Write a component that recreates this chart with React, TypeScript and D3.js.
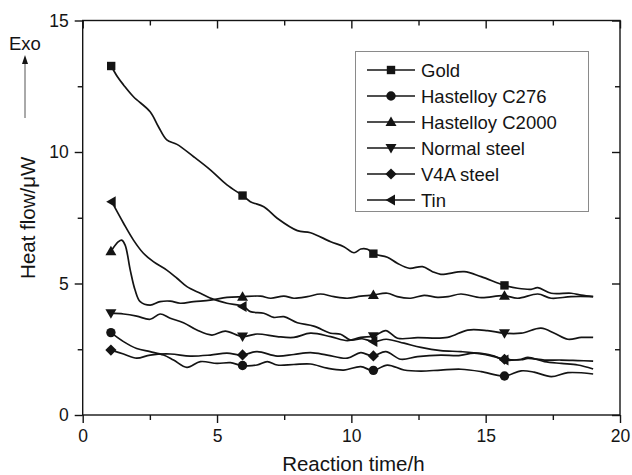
import React, { useEffect, useRef } from "react";
import * as d3 from "d3";

const xTicks = [0, 5, 10, 15, 20];
const xMinor = [2.5, 7.5, 12.5, 17.5];
const yTicks = [0, 5, 10, 15];
const yMinor = [2.5, 7.5, 12.5];

const seriesNames = ["Gold", "Hastelloy C276", "Hastelloy C2000", "Normal steel", "V4A steel", "Tin"];
const markerTimes = [1.05, 5.95, 10.82, 15.7];

const goldT = [1.06, 1.3, 1.52, 1.89, 2.51, 2.82, 3.13, 3.51, 4.13, 4.75, 5.37, 5.97, 6.24, 6.74, 7.24, 7.99, 8.48, 9.23, 9.72, 10.1, 10.35, 10.6, 10.84, 11.34, 11.71, 12.15, 12.65, 13.02, 13.33, 14.2, 14.83, 15.72, 16.19, 16.69, 16.94, 17.44, 18.18, 18.56, 19.0];
const goldV = [13.27, 12.85, 12.55, 12.1, 11.53, 10.96, 10.46, 10.29, 9.82, 9.32, 8.75, 8.33, 8.11, 7.92, 7.48, 7.01, 6.93, 6.59, 6.4, 6.17, 6.31, 6.3, 6.12, 6.0, 5.77, 5.58, 5.64, 5.45, 5.35, 5.45, 5.26, 4.92, 4.82, 4.78, 4.84, 4.63, 4.63, 4.56, 4.5];

const c276T = [1.04, 1.52, 2.01, 2.51, 3.01, 3.38, 3.88, 4.38, 5.0, 5.5, 5.93, 6.49, 6.87, 7.24, 7.86, 8.48, 9.1, 9.72, 10.35, 10.8, 11.34, 11.96, 12.59, 13.33, 14.08, 14.83, 15.69, 16.32, 16.8, 17.44, 18.06, 19.0];
const c276V = [3.14, 2.79, 2.53, 2.41, 2.28, 2.09, 1.81, 2.03, 1.96, 1.99, 1.88, 1.9, 2.03, 1.9, 1.92, 1.94, 1.78, 1.71, 1.84, 1.69, 1.9, 1.71, 1.67, 1.71, 1.74, 1.65, 1.48, 1.68, 1.63, 1.46, 1.61, 1.56];

const c2000T = [1.04, 1.33, 1.45, 1.58, 1.77, 1.95, 2.14, 2.51, 2.88, 3.26, 3.63, 4.13, 4.75, 5.37, 5.93, 6.62, 7.0, 7.49, 7.86, 8.36, 8.85, 9.35, 9.85, 10.35, 10.78, 11.34, 11.71, 12.21, 12.71, 13.21, 13.6, 14.08, 14.83, 15.66, 16.19, 16.94, 17.44, 18.18, 19.0];
const c2000V = [6.21, 6.59, 6.65, 6.46, 5.51, 4.75, 4.31, 4.18, 4.31, 4.33, 4.25, 4.31, 4.37, 4.47, 4.5, 4.52, 4.44, 4.52, 4.44, 4.5, 4.6, 4.5, 4.44, 4.52, 4.56, 4.63, 4.5, 4.44, 4.55, 4.47, 4.5, 4.6, 4.46, 4.54, 4.44, 4.6, 4.44, 4.5, 4.5];

const normalT = [1.04, 1.52, 2.01, 2.51, 2.88, 3.26, 3.75, 4.25, 4.81, 5.31, 5.93, 6.49, 7.24, 7.86, 8.48, 9.23, 9.85, 10.35, 10.84, 11.28, 11.72, 12.46, 13.58, 14.33, 15.07, 15.69, 16.32, 17.06, 17.56, 18.06, 18.56, 19.0];
const normalV = [3.87, 3.84, 3.76, 3.64, 3.84, 3.68, 3.51, 3.23, 3.04, 3.19, 2.98, 3.08, 2.98, 2.95, 3.11, 2.98, 2.83, 2.95, 3.0, 3.21, 2.92, 2.94, 2.95, 3.23, 3.21, 3.11, 3.11, 3.3, 3.11, 2.88, 2.95, 2.95];

const v4aT = [1.04, 1.52, 2.01, 2.51, 3.26, 4.0, 4.75, 5.37, 5.93, 6.49, 7.24, 7.86, 8.48, 9.1, 9.85, 10.35, 10.8, 11.28, 11.84, 12.46, 13.33, 14.0, 14.57, 15.32, 15.69, 16.32, 16.57, 17.19, 17.81, 18.43, 19.0];
const v4aV = [2.47, 2.32, 2.16, 2.28, 2.32, 2.24, 2.28, 2.35, 2.28, 2.41, 2.24, 2.3, 2.37, 2.28, 2.16, 2.37, 2.24, 2.41, 2.12, 2.22, 2.28, 2.26, 2.35, 2.22, 2.12, 2.1, 2.15, 2.09, 2.09, 2.07, 2.05];

const tinT = [1.08, 1.52, 1.89, 2.26, 2.63, 3.13, 3.51, 3.88, 4.38, 4.87, 5.37, 5.99, 6.24, 6.74, 7.11, 7.49, 7.99, 8.6, 9.23, 9.6, 9.97, 10.4, 10.84, 11.3, 11.96, 12.59, 13.33, 14.08, 14.83, 15.32, 15.69, 16.32, 16.57, 17.19, 17.81, 18.43, 19.0];
const tinV = [8.11, 7.29, 6.65, 6.15, 5.83, 5.51, 5.2, 4.88, 4.63, 4.4, 4.25, 4.12, 3.93, 3.87, 3.71, 3.74, 3.51, 3.38, 3.11, 3.07, 2.85, 2.9, 2.79, 2.88, 2.73, 2.57, 2.45, 2.41, 2.34, 2.24, 2.09, 2.12, 2.19, 2.03, 1.96, 1.9, 1.75];

const seriesT = [goldT, c276T, c2000T, normalT, v4aT, tinT];
const seriesV = [goldV, c276V, c2000V, normalV, v4aV, tinV];
const seriesShape = ["square", "circle", "up", "down", "diamond", "left"];

const W = 632;
const H = 475;
const FONT = "'Liberation Sans', Arial, Helvetica, sans-serif";
const INK = "#141414";

function markerPath(shape: string, cx: number, cy: number): string {
  const p = d3.path();
  if (shape === "square") {
    const s = 4.2;
    p.rect(cx - s, cy - s, 2 * s, 2 * s);
  } else if (shape === "circle") {
    p.moveTo(cx + 4.7, cy);
    p.arc(cx, cy, 4.7, 0, Math.PI * 2);
  } else if (shape === "up") {
    p.moveTo(cx, cy - 5.5);
    p.lineTo(cx + 5.5, cy + 4);
    p.lineTo(cx - 5.5, cy + 4);
    p.closePath();
  } else if (shape === "down") {
    p.moveTo(cx, cy + 5.5);
    p.lineTo(cx + 5.5, cy - 4);
    p.lineTo(cx - 5.5, cy - 4);
    p.closePath();
  } else if (shape === "diamond") {
    const s = 5.6;
    p.moveTo(cx, cy - s);
    p.lineTo(cx + s, cy);
    p.lineTo(cx, cy + s);
    p.lineTo(cx - s, cy);
    p.closePath();
  } else {
    p.moveTo(cx - 5.5, cy);
    p.lineTo(cx + 4, cy - 5.5);
    p.lineTo(cx + 4, cy + 5.5);
    p.closePath();
  }
  return p.toString();
}

function interp(ts: number[], vs: number[], t: number): number {
  const i = d3.bisectLeft(ts, t);
  if (i <= 0) return vs[0];
  if (i >= ts.length) return vs[vs.length - 1];
  const f = (t - ts[i - 1]) / (ts[i] - ts[i - 1]);
  return vs[i - 1] + f * (vs[i] - vs[i - 1]);
}

export default function App() {
  const ref = useRef<SVGSVGElement | null>(null);

  useEffect(() => {
    const svg = d3.select(ref.current);
    svg.selectAll("*").remove();

    const x = d3.scaleLinear().domain([0, 20]).range([82.7, 620]);
    const y = d3.scaleLinear().domain([0, 15]).range([415, 20.5]);
    const [x0, x1] = x.range();
    const [y0, y1] = y.range();

    const g = svg.append("g");

    // frame
    g.append("rect")
      .attr("x", x0).attr("y", y1)
      .attr("width", x1 - x0).attr("height", y0 - y1)
      .attr("fill", "none").attr("stroke", INK).attr("stroke-width", 1.4);

    const styleAxis = (sel: any) => {
      sel.select(".domain").remove();
      sel.selectAll("line").attr("stroke", INK).attr("stroke-width", 1.4);
      sel.selectAll("text").attr("font-family", FONT).attr("font-size", 17.5).attr("fill", INK);
    };

    // bottom major + minor (outward)
    g.append("g").attr("transform", `translate(0,${y0})`)
      .call(d3.axisBottom(x).tickValues(xTicks).tickSize(8).tickPadding(7).tickFormat(d3.format("d")) as any)
      .call(styleAxis);
    g.append("g").attr("transform", `translate(0,${y0})`)
      .call(d3.axisBottom(x).tickValues(xMinor).tickSize(5).tickFormat(() => "") as any)
      .call(styleAxis);
    // top (inward)
    g.append("g").attr("transform", `translate(0,${y1})`)
      .call(d3.axisBottom(x).tickValues(xTicks).tickSize(8).tickFormat(() => "") as any)
      .call(styleAxis);
    g.append("g").attr("transform", `translate(0,${y1})`)
      .call(d3.axisBottom(x).tickValues(xMinor).tickSize(5).tickFormat(() => "") as any)
      .call(styleAxis);
    // left (outward)
    g.append("g").attr("transform", `translate(${x0},0)`)
      .call(d3.axisLeft(y).tickValues(yTicks).tickSize(8).tickPadding(6).tickFormat(d3.format("d")) as any)
      .call(styleAxis);
    g.append("g").attr("transform", `translate(${x0},0)`)
      .call(d3.axisLeft(y).tickValues(yMinor).tickSize(5).tickFormat(() => "") as any)
      .call(styleAxis);
    // right (inward)
    g.append("g").attr("transform", `translate(${x1},0)`)
      .call(d3.axisLeft(y).tickValues(yTicks).tickSize(8).tickFormat(() => "") as any)
      .call(styleAxis);
    g.append("g").attr("transform", `translate(${x1},0)`)
      .call(d3.axisLeft(y).tickValues(yMinor).tickSize(5).tickFormat(() => "") as any)
      .call(styleAxis);

    // axis titles
    g.append("text")
      .attr("x", (x0 + x1) / 2 + 2).attr("y", 471)
      .attr("text-anchor", "middle")
      .attr("font-family", FONT).attr("font-size", 20.5).attr("fill", INK)
      .text("Reaction time/h");
    g.append("text")
      .attr("transform", `translate(35,${(y0 + y1) / 2}) rotate(-90)`)
      .attr("text-anchor", "middle")
      .attr("font-family", FONT).attr("font-size", 20.5).attr("fill", INK)
      .text("Heat flow/\u03bcW");

    // Exo
    g.append("text")
      .attr("x", 9).attr("y", 50)
      .attr("font-family", FONT).attr("font-size", 18.5).attr("fill", INK)
      .text("Exo");
    g.append("line")
      .attr("x1", 25).attr("x2", 25).attr("y1", 118).attr("y2", 62)
      .attr("stroke", "#555").attr("stroke-width", 1);
    g.append("path")
      .attr("d", "M25,55 L28,64 L22,64 Z")
      .attr("fill", INK);

    // lines
    const line = d3.line<[number, number]>()
      .x((d) => x(d[0]))
      .y((d) => y(d[1]))
      .curve(d3.curveCatmullRom.alpha(0.5));

    seriesNames.forEach((name, i) => {
      const pts: [number, number][] = seriesT[i].map((t, j) => [t, seriesV[i][j]]);
      g.append("path")
        .attr("d", line(pts) as string)
        .attr("fill", "none")
        .attr("stroke", INK)
        .attr("stroke-width", 1.7)
        .attr("stroke-linejoin", "round");
    });

    seriesNames.forEach((name, i) => {
      markerTimes.forEach((mt) => {
        const t = Math.max(mt, seriesT[i][0]);
        const v = interp(seriesT[i], seriesV[i], t);
        g.append("path")
          .attr("d", markerPath(seriesShape[i], x(t), y(v)))
          .attr("fill", INK);
      });
    });

    // legend
    const lg = g.append("g");
    lg.append("rect")
      .attr("x", 355.5).attr("y", 51.5).attr("width", 233).attr("height", 160)
      .attr("fill", "white").attr("stroke", "#8a8a8a").attr("stroke-width", 1);
    seriesNames.forEach((name, i) => {
      const cy = 70 + i * 26;
      lg.append("line")
        .attr("x1", 367).attr("x2", 415).attr("y1", cy).attr("y2", cy)
        .attr("stroke", INK).attr("stroke-width", 1.7);
      lg.append("path").attr("d", markerPath(seriesShape[i], 391, cy)).attr("fill", INK);
      lg.append("text")
        .attr("x", 421).attr("y", cy + 6.5)
        .attr("font-family", FONT).attr("font-size", 18.5).attr("fill", INK)
        .text(name);
    });
  }, []);

  return (
    <svg
      ref={ref}
      width={W}
      height={H}
      style={{ position: "absolute", left: 0, top: 0, background: "white" }}
    />
  );
}
